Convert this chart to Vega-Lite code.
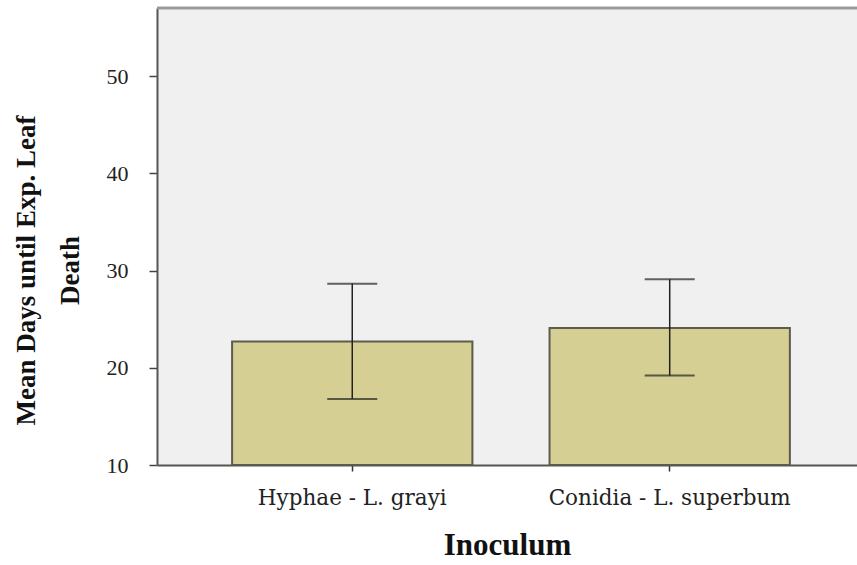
{
  "$schema": "https://vega.github.io/schema/vega-lite/v6.json",
  "autosize": "none",
  "width": 700,
  "height": 457,
  "padding": {"left": 157, "top": 8, "right": 0, "bottom": 100},
  "background": "#ffffff",
  "config": {
    "view": {"fill": "#f0f0f0", "stroke": null},
    "font": "Liberation Serif"
  },
  "data": {
    "values": [
      {"inoculum": "Hyphae - L. grayi", "mean": 22.7, "lo": 16.8, "hi": 28.65},
      {"inoculum": "Conidia - L. superbum", "mean": 24.1, "lo": 19.2, "hi": 29.1}
    ]
  },
  "layer": [
    {
      "mark": {"type": "bar", "fill": "#d5cf94", "stroke": "#5c5c4c", "strokeWidth": 2},
      "encoding": {
        "x": {
          "field": "inoculum",
          "type": "nominal",
          "sort": null,
          "scale": {"paddingInner": 0.243, "paddingOuter": 0.224, "align": 0.528},
          "axis": {
            "title": "Inoculum",
            "titleFont": "Liberation Serif",
            "titleFontSize": 31,
            "titleFontWeight": "bold",
            "titleColor": "#111111",
            "titlePadding": 22,
            "labelAngle": 0,
            "labelFont": "DejaVu Serif",
            "labelFontSize": 21.5,
            "labelLimit": 0,
            "labelColor": "#222222",
            "labelPadding": 16,
            "tickSize": 6,
            "tickColor": "#333333",
            "tickWidth": 1.5,
            "domainColor": "#555555",
            "domainWidth": 2
          }
        },
        "y": {
          "field": "mean",
          "type": "quantitative",
          "scale": {"domain": [10, 57], "nice": false, "zero": false},
          "axis": {
            "title": ["Mean Days until Exp. Leaf", "Death"],
            "titleFont": "Liberation Serif",
            "titleFontSize": 27,
            "titleFontWeight": "bold",
            "titleColor": "#111111",
            "titleLineHeight": 44,
            "titlePadding": 22,
            "titleY": 262,
            "values": [10, 20, 30, 40, 50],
            "grid": false,
            "labelFont": "Liberation Serif",
            "labelFontSize": 22,
            "labelColor": "#222222",
            "labelPadding": 21,
            "tickSize": 8,
            "tickColor": "#444444",
            "tickWidth": 1.5,
            "domainColor": "#555555",
            "domainWidth": 2
          }
        },
        "y2": {"datum": 10}
      }
    },
    {
      "mark": {"type": "rule", "color": "#222222", "strokeWidth": 1.5},
      "encoding": {
        "x": {"field": "inoculum", "type": "nominal", "sort": null},
        "y": {"field": "lo", "type": "quantitative"},
        "y2": {"field": "hi"}
      }
    },
    {
      "mark": {"type": "tick", "color": "#222222", "size": 50, "thickness": 2, "orient": "horizontal"},
      "encoding": {
        "x": {"field": "inoculum", "type": "nominal", "sort": null},
        "y": {"field": "lo", "type": "quantitative"}
      }
    },
    {
      "mark": {"type": "tick", "color": "#222222", "size": 50, "thickness": 2, "orient": "horizontal"},
      "encoding": {
        "x": {"field": "inoculum", "type": "nominal", "sort": null},
        "y": {"field": "hi", "type": "quantitative"}
      }
    },
    {
      "mark": {"type": "rule", "color": "#999999", "strokeWidth": 2.5},
      "encoding": {
        "y": {"datum": 57}
      }
    }
  ]
}
